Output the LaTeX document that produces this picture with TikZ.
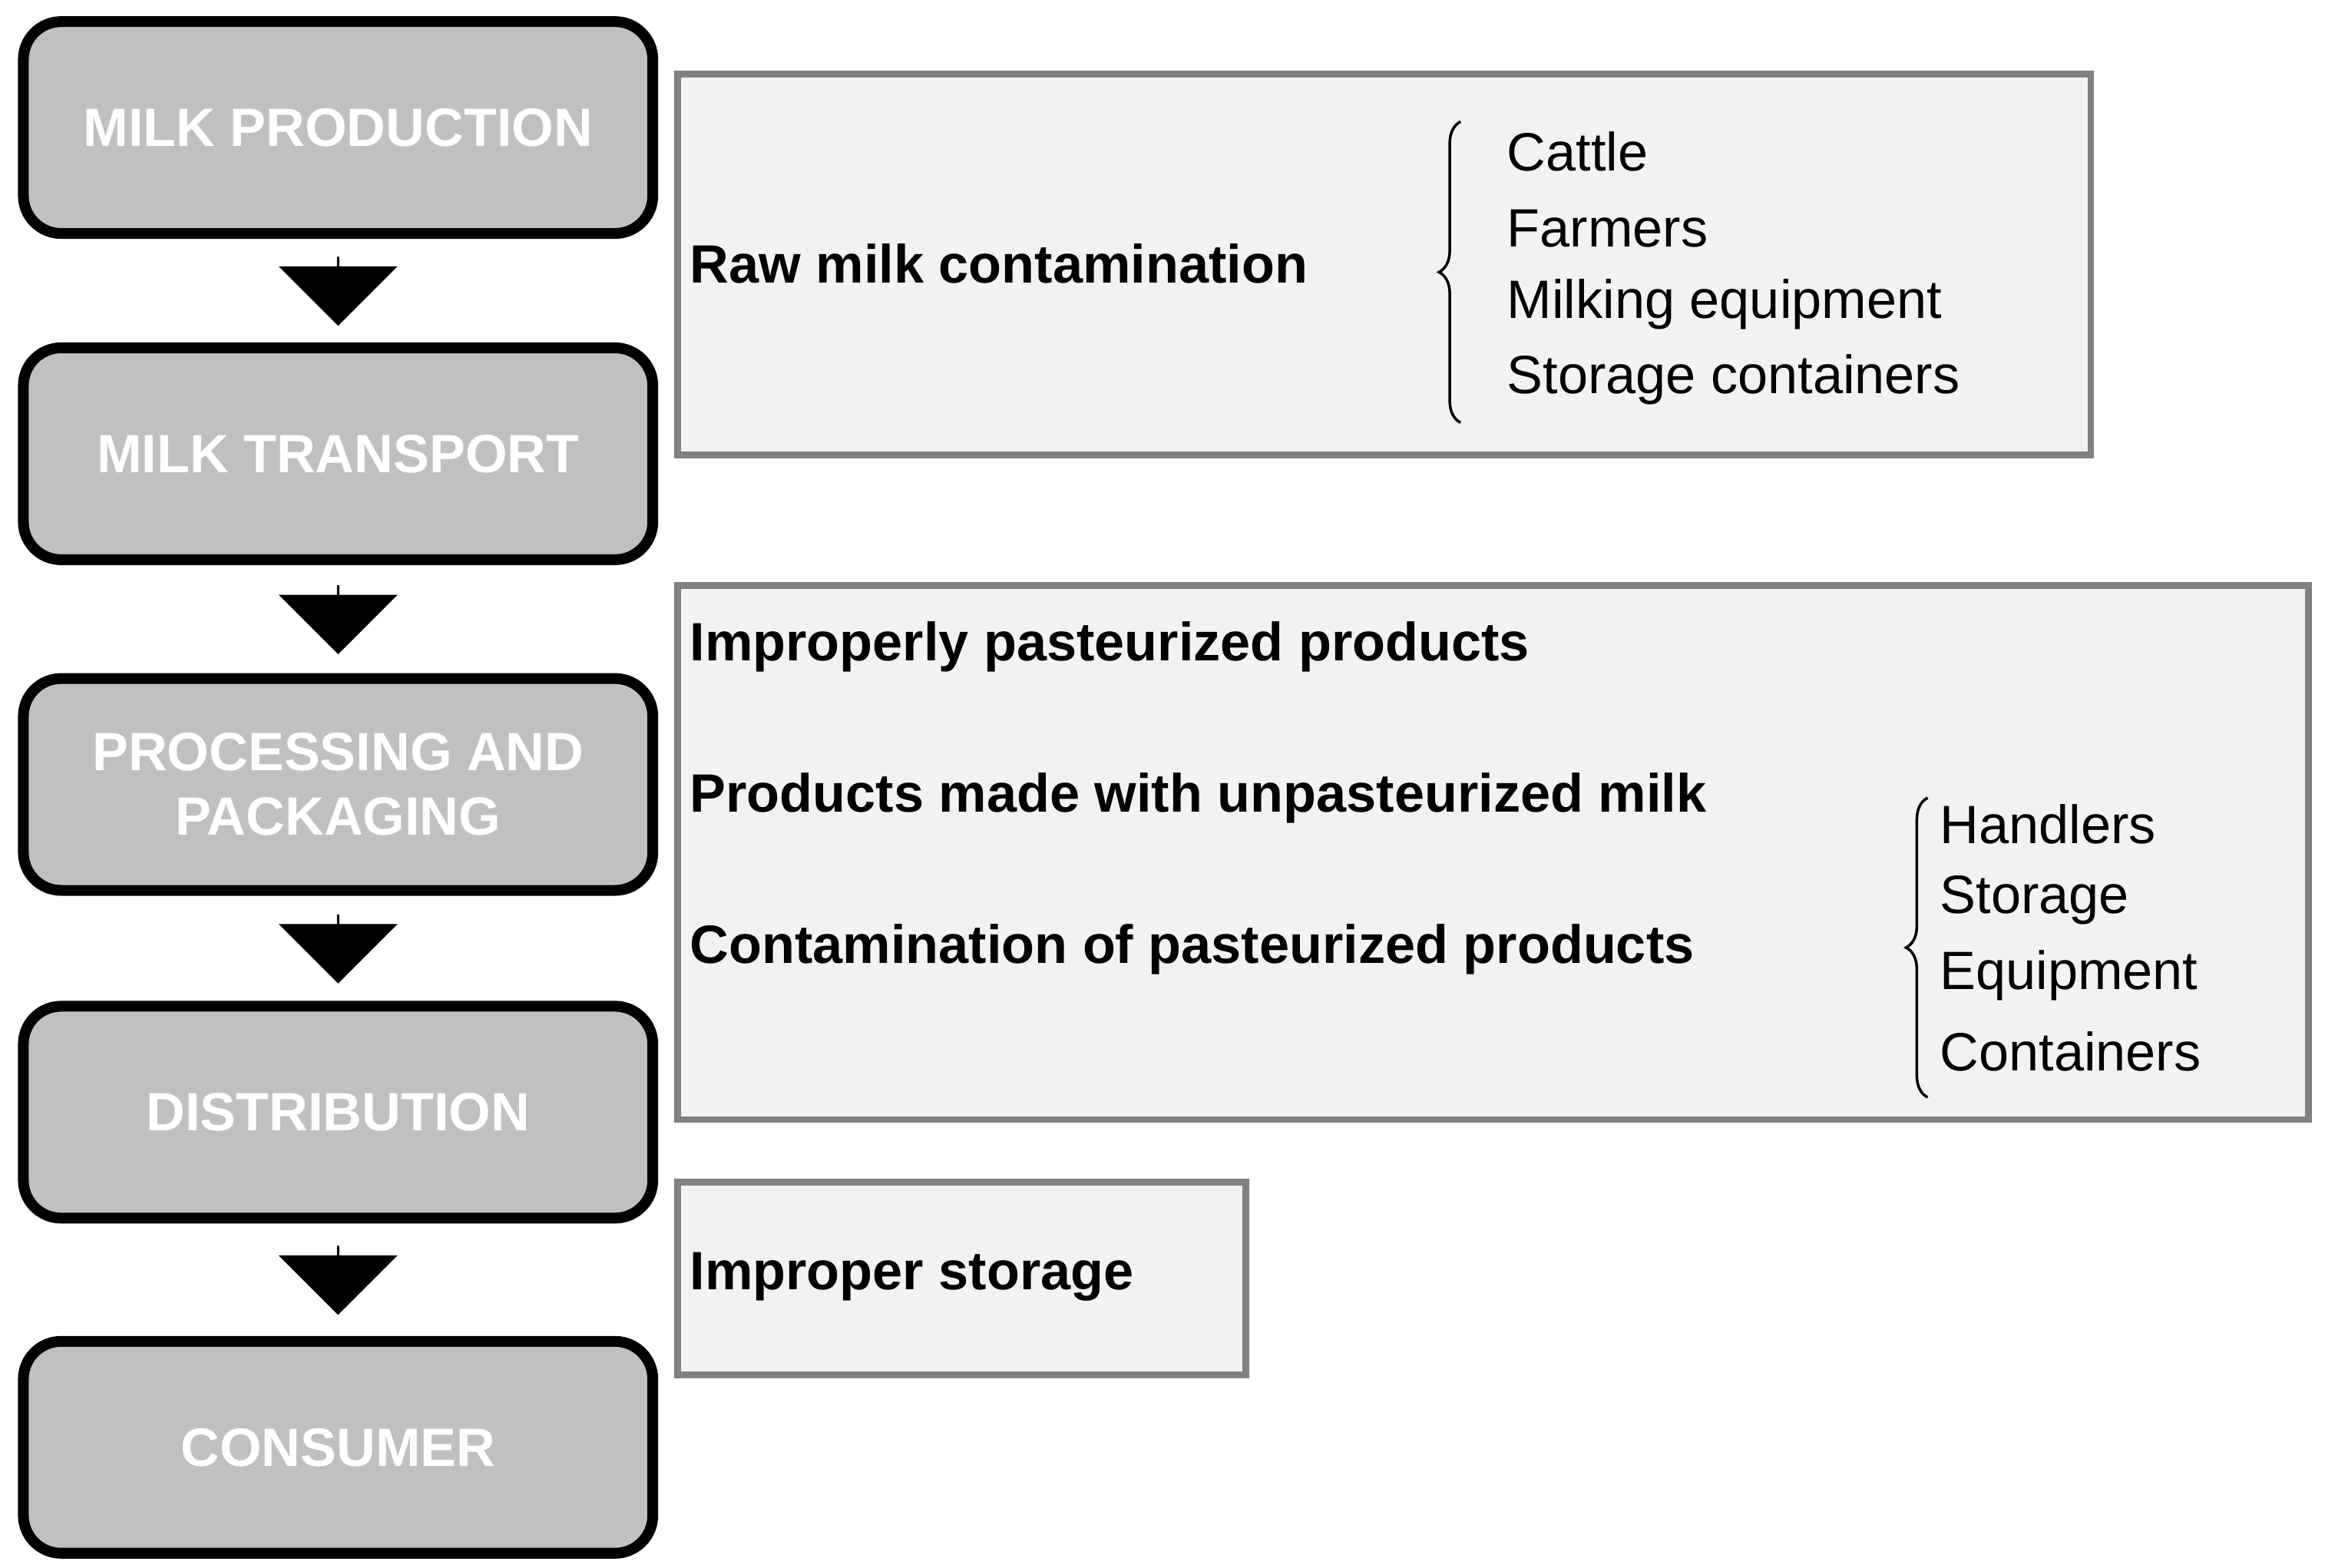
\documentclass[tikz,border=0pt]{standalone}
\usepackage{fontspec}
\setmainfont{Liberation Sans}
\usetikzlibrary{shapes.arrows,decorations.pathreplacing,calc}
\definecolor{stepgray}{HTML}{C0C0C0}
\definecolor{panelgray}{HTML}{F2F2F2}
\definecolor{panelline}{HTML}{808080}
\tikzset{
  stage/.style={draw=black, line width=4pt, fill=stepgray, rounded corners=14pt,
    minimum width=8.2cm, minimum height=2.76cm, align=center, text=white,
    font=\fontsize{20}{24}\selectfont\bfseries},
  flow/.style={single arrow, fill=black, rotate=-90, minimum height=0.9cm,
    minimum width=1.55cm, single arrow head extend=0.35cm, inner sep=0pt},
  panel/.style={draw=panelline, line width=2.5pt, fill=panelgray},
  cause/.style={anchor=west, inner sep=0pt, font=\fontsize{20}{24}\selectfont\bfseries},
  item/.style={anchor=west, inner sep=0pt, font=\fontsize{20}{24}\selectfont},
  curly/.style={decorate, decoration={brace, amplitude=8pt}, line width=1pt}
}
\begin{document}
\begin{tikzpicture}[x=0.01931cm, y=-0.01931cm]
\useasboundingbox (0,0) rectangle (1568,1057);

% --- stages ---
\node[stage] (prod) at (228,86) {MILK PRODUCTION};
\node[stage] (trans) at (228,306) {MILK TRANSPORT};
\node[stage] (proc) at (228,529) {PROCESSING AND\\PACKAGING};
\node[stage] (dist) at (228,750) {DISTRIBUTION};
\node[stage] (cons) at (228,976) {CONSUMER};

\foreach \a/\b/\n in {prod/trans/f1, trans/proc/f2, proc/dist/f3, dist/cons/f4}
  \node[flow] (\n) at ($(\a.south)!0.5!(\b.north)$) {};

% --- raw milk ---
\draw[panel] (457,50) rectangle (1410,307);
\node[cause] (raw) at (465,178) {Raw milk contamination};
\draw[curly] (985,285) -- (985,82);
\node[item] (cattle) at (1016,102) {Cattle};
\node[item] (farm) at (1016,154) {Farmers};
\node[item] (equip) at (1016,205) {Milking equipment};
\node[item] (store) at (1016,256) {Storage containers};

% --- processing ---
\draw[panel] (457,395) rectangle (1557,755);
\node[cause] (impr) at (465,436) {Improperly pasteurized products};
\node[cause] (unpast) at (465,538) {Products made with unpasteurized milk};
\node[cause] (contam) at (465,640) {Contamination of pasteurized products};
\draw[curly] (1300,740) -- (1300,538);
\node[item] (hand) at (1308,556) {Handlers};
\node[item] (stor) at (1308,607) {Storage};
\node[item] (eqp) at (1308,658) {Equipment};
\node[item] (cont) at (1308,709) {Containers};

% --- distribution ---
\draw[panel] (457,797) rectangle (840,927);
\node[cause] (storage) at (465,861) {Improper storage};
\end{tikzpicture}
\end{document}
